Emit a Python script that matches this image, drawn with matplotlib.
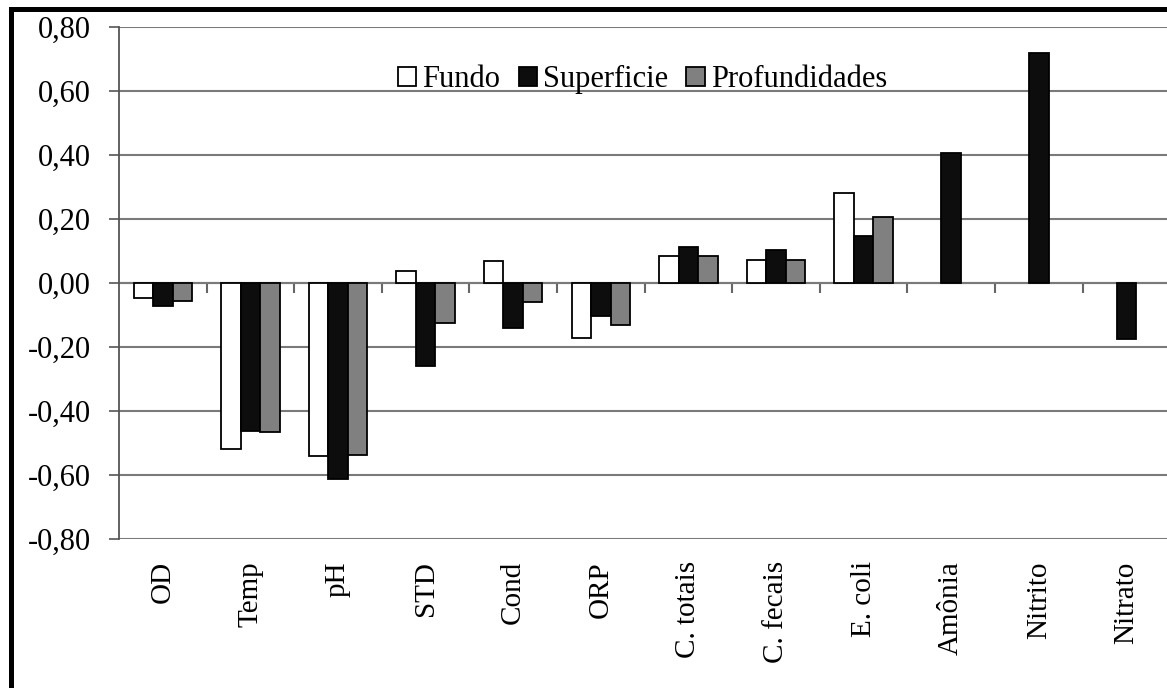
import numpy as np
import matplotlib
matplotlib.use('Agg')
import matplotlib.pyplot as plt
from matplotlib.patches import Rectangle
from matplotlib.ticker import FuncFormatter

categorias = ['OD', 'Temp', 'pH', 'STD', 'Cond', 'ORP', 'C. totais', 'C. fecais',
              'E. coli', 'Amônia', 'Nitrito', 'Nitrato']
fundo = [-0.048, -0.519, -0.541, 0.038, 0.068, -0.171, 0.083, 0.072, 0.280,
         np.nan, np.nan, np.nan]
superficie = [-0.072, -0.463, -0.611, -0.258, -0.141, -0.102, 0.112, 0.103, 0.147,
              0.405, 0.720, -0.176]
profundidades = [-0.056, -0.465, -0.539, -0.124, -0.060, -0.130, 0.083, 0.072, 0.207,
                 np.nan, np.nan, np.nan]
series = ['Fundo', 'Superficie', 'Profundidades']
cores = ['white', '#0d0d0d', '#808080']
y_ticks = [-0.8, -0.6, -0.4, -0.2, 0.0, 0.2, 0.4, 0.6, 0.8]

plt.rcParams['font.family'] = ['Liberation Serif', 'DejaVu Serif']

W, H = 1167, 688
fig = plt.figure(figsize=(W / 100, H / 100), dpi=100)
# plot area in pixels: left 119, top 27, bottom 539, 12 categorias de 87.6 px
ax = fig.add_axes([119 / W, (H - 539) / H, 12 * 87.6 / W, 512 / H])

x = np.arange(len(categorias))
w = 1 / 4.5
for k, (vals, cor, nome) in enumerate(zip([fundo, superficie, profundidades], cores, series)):
    ax.bar(x + (k - 1) * w, vals, w, color=cor, edgecolor='black', linewidth=1.3,
           label=nome, zorder=3)

ax.set_xlim(-0.5, len(categorias) - 0.5)
ax.set_ylim(-0.8, 0.8)
ax.set_yticks(y_ticks)
ax.yaxis.set_major_formatter(FuncFormatter(lambda v, p: ('%.2f' % v).replace('.', ',')))
ax.grid(axis='y', color='#7a7a7a', linewidth=1.5, zorder=0)
ax.tick_params(axis='y', direction='out', length=7, width=1.2, color='#555555',
               labelsize=22, pad=13)

for s in ['top', 'right', 'bottom']:
    ax.spines[s].set_visible(False)
ax.spines['left'].set_color('#555555')
ax.spines['left'].set_linewidth(1.3)

ax.set_xticks(x)
ax.set_xticklabels(categorias, rotation=90, fontsize=21)
ax.tick_params(axis='x', length=0, pad=16)

# eixo do zero com marcas entre categorias
zero = ax.secondary_xaxis(0, transform=ax.transData)
zero.set_xticks(np.arange(0.5, len(categorias) - 0.5, 1))
zero.set_xticklabels([])
zero.tick_params(direction='out', length=7, width=1.5, color='#666666')
zero.spines['bottom'].set_color('#777777')
zero.spines['bottom'].set_linewidth(1.5)

ax.legend(loc='center', bbox_to_anchor=(0.498, 0.897), ncol=3, frameon=False,
          fontsize=22, handlelength=0.6, handleheight=0.6, handletextpad=0.2,
          columnspacing=0.6, borderpad=0)

fig.patches.append(Rectangle((11 / W, -0.05), 1.1, (H - 8.5) / H + 0.05,
                             transform=fig.transFigure, fill=False,
                             edgecolor='black', linewidth=3.6))

fig.savefig('out.png', dpi=100)
